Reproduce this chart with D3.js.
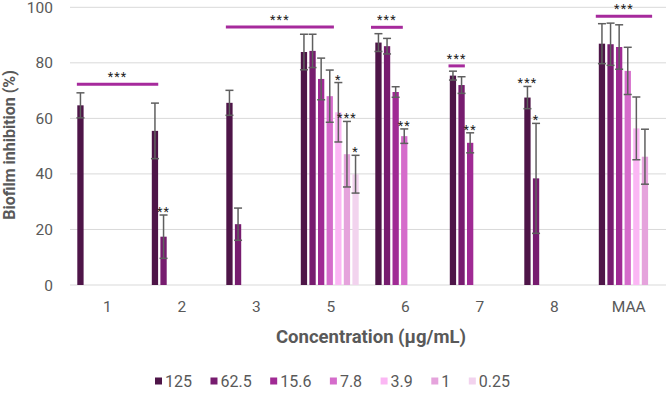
<!DOCTYPE html>
<html>
<head>
<meta charset="utf-8">
<script src="https://cdn.jsdelivr.net/npm/d3@7"></script>
<style>
  body { margin: 0; background: #fff; }
  svg { display: block; font-family: Roboto, "Noto Sans", sans-serif; }
</style>
</head>
<body>
<div id="chart"></div>
<script>
// ---------------- DATA ----------------
const categories = ["1", "2", "3", "5", "6", "7", "8", "MAA"];
const series = ["125", "62.5", "15.6", "7.8", "3.9", "1", "0.25"];
const colors = ["#4e1548", "#771c6f", "#a02a94", "#d56ccb", "#fbb7f4", "#e5a3dc", "#f2d3ee"];

// mean inhibition per category, one entry per concentration (missing = not tested)
const means = [
  [64.7],
  [55.5, 17.4],
  [65.6, 21.9],
  [83.9, 84.3, 74.2, 68.0, 62.2, 47.1, 39.9],
  [87.3, 86.0, 69.5, 53.6],
  [75.4, 72.0, 51.2],
  [67.5, 38.4],
  [86.9, 86.7, 85.7, 77.1, 56.4, 46.2]
];
const errors = [
  [4.5],
  [10.0, 7.8],
  [4.5, 5.8],
  [6.4, 6.0, 7.5, 9.4, 10.7, 11.8, 6.8],
  [3.2, 2.8, 1.9, 2.6],
  [1.6, 3.0, 3.6],
  [4.0, 19.8],
  [7.2, 7.6, 8.0, 8.5, 11.3, 9.9]
];

// significance marks above single bars: [category, series index, label]
const barStars = [
  ["2", 1, "**"],
  ["5", 4, "*"], ["5", 5, "***"], ["5", 6, "*"],
  ["6", 3, "**"],
  ["7", 2, "**"],
  ["8", 0, "***"], ["8", 1, "*"]
];

// group brackets: [from category, from slot, to category, to slot, level (%), label]
const brackets = [
  ["1", -0.05, "2", 0.75, 72.3, "***"],
  ["3", -0.05, "5", 3.85, 92.9, "***"],
  ["6", -0.5, "6", 3.2, 92.8, "***"],
  ["7", -0.15, "7", 1.75, 78.9, "***"],
  ["MAA", -0.35, "MAA", 6.2, 96.8, "***"]
];

const yTicks = [0, 20, 40, 60, 80, 100];

// ---------------- LAYOUT ----------------
const width = 666, height = 396;
const plot = {left: 70, right: 666, top: 7.3, bottom: 285};
const textGray = "#595959";

const svg = d3.select("#chart").append("svg")
  .attr("width", width)
  .attr("height", height);

const x0 = d3.scaleBand().domain(categories).range([plot.left, plot.right]);
const x1 = d3.scaleBand().domain(d3.range(series.length))
  .range([7.3, 65.2]).paddingInner(0.267);
const y = d3.scaleLinear().domain([0, 100]).range([plot.bottom, plot.top]);

const slotX = (cat, s) => x0(cat) + x1(0) + s * x1.step();

// ---------------- GRID + AXES ----------------
svg.append("g")
  .selectAll("line")
  .data(yTicks)
  .join("line")
  .attr("x1", plot.left).attr("x2", plot.right)
  .attr("y1", d => y(d)).attr("y2", d => y(d))
  .attr("stroke", "#d9d9d9")
  .attr("stroke-width", 1);

svg.append("g")
  .selectAll("text")
  .data(yTicks)
  .join("text")
  .attr("x", 53)
  .attr("y", d => y(d) + 5.5)
  .attr("text-anchor", "end")
  .attr("fill", textGray)
  .style("font-size", "15.5px")
  .text(d => d);

svg.append("g")
  .selectAll("text")
  .data(categories)
  .join("text")
  .attr("x", d => x0(d) + x0.bandwidth() / 2)
  .attr("y", 312)
  .attr("text-anchor", "middle")
  .attr("fill", textGray)
  .style("font-size", "15.5px")
  .text(d => d);

svg.append("text")
  .attr("x", 371)
  .attr("y", 343)
  .attr("text-anchor", "middle")
  .attr("fill", textGray)
  .style("font-size", "18.5px")
  .style("font-weight", "bold")
  .text("Concentration (µg/mL)");

svg.append("text")
  .attr("transform", "translate(9,145) rotate(-90)")
  .attr("text-anchor", "middle")
  .attr("dominant-baseline", "central")
  .attr("fill", textGray)
  .style("font-size", "16px")
  .style("font-weight", "bold")
  .text("Biofilm inhibition (%)");

// ---------------- BARS ----------------
const cells = [];
categories.forEach((cat, ci) => {
  means[ci].forEach((v, si) => {
    cells.push({cat, si, v, e: errors[ci][si]});
  });
});

svg.append("g")
  .selectAll("rect")
  .data(cells)
  .join("rect")
  .attr("x", d => x0(d.cat) + x1(d.si))
  .attr("y", d => y(d.v))
  .attr("width", x1.bandwidth())
  .attr("height", d => y(0) - y(d.v))
  .attr("fill", d => colors[d.si]);

// ---------------- ERROR BARS ----------------
const errG = svg.append("g")
  .attr("stroke", "#5f5f5f")
  .attr("stroke-width", 1.5);
const capW = 4;
cells.forEach(d => {
  const cx = x0(d.cat) + x1(d.si) + x1.bandwidth() / 2;
  errG.append("line")
    .attr("x1", cx).attr("x2", cx)
    .attr("y1", y(d.v - d.e)).attr("y2", y(d.v + d.e));
  [d.v - d.e, d.v + d.e].forEach(val => {
    errG.append("line")
      .attr("x1", cx - capW).attr("x2", cx + capW)
      .attr("y1", y(val)).attr("y2", y(val));
  });
});

// ---------------- SIGNIFICANCE ----------------
svg.append("g")
  .selectAll("text")
  .data(barStars)
  .join("text")
  .attr("x", d => x0(d[0]) + x1(d[1]) + x1.bandwidth() / 2)
  .attr("y", d => {
    const ci = categories.indexOf(d[0]);
    return y(means[ci][d[1]] + errors[ci][d[1]]) + 1;
  })
  .attr("text-anchor", "middle")
  .attr("fill", "#222")
  .style("font-size", "12.5px")
  .style("letter-spacing", "1.2px")
  .text(d => d[2]);

const br = svg.append("g");
brackets.forEach(b => {
  const xa = slotX(b[0], b[1]);
  const xb = slotX(b[2], b[3]);
  br.append("line")
    .attr("x1", xa).attr("x2", xb)
    .attr("y1", y(b[4])).attr("y2", y(b[4]))
    .attr("stroke", "#a62a9c")
    .attr("stroke-width", 3);
  br.append("text")
    .attr("x", (xa + xb) / 2)
    .attr("y", y(b[4]) - 3)
    .attr("text-anchor", "middle")
    .attr("fill", "#222")
    .style("font-size", "12.5px")
    .style("letter-spacing", "1.2px")
    .text(b[5]);
});

// ---------------- LEGEND ----------------
const legend = svg.append("g").attr("transform", "translate(155,381)");
let lx = 0;
series.forEach((s, i) => {
  const item = legend.append("g").attr("transform", `translate(${lx},0)`);
  item.append("rect")
    .attr("x", 0).attr("y", -3.5)
    .attr("width", 7).attr("height", 7)
    .attr("fill", colors[i]);
  const t = item.append("text")
    .attr("x", 10)
    .attr("y", 5.5)
    .attr("fill", textGray)
    .style("font-size", "16px")
    .text(s);
  lx += 10 + t.node().getComputedTextLength() + 18.5;
});
</script>
</body>
</html>
